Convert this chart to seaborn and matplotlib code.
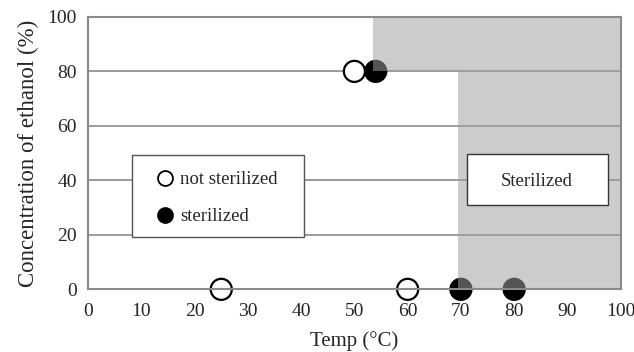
import numpy as np
import pandas as pd
import matplotlib
matplotlib.use("Agg")
import matplotlib.pyplot as plt
from matplotlib.patches import Polygon, Rectangle
import seaborn as sns

# Observations: temperature (°C), ethanol concentration (%), outcome
temps = [25, 60, 50, 54, 70, 80]
ethanol = [0, 0, 80, 80, 0, 0]
outcome = ["not sterilized", "not sterilized", "not sterilized",
           "sterilized", "sterilized", "sterilized"]

x_ticks = [0, 10, 20, 30, 40, 50, 60, 70, 80, 90, 100]
y_ticks = [0, 20, 40, 60, 80, 100]

df = pd.DataFrame({"Temp": temps, "Ethanol": ethanol, "Result": outcome})

sns.set_style("white")
plt.rcParams["font.family"] = ["Liberation Serif", "DejaVu Serif"]

fig = plt.figure(figsize=(6.34, 3.52), dpi=100)
ax = fig.add_axes([0.139, 0.178, 0.840, 0.774])

spine_col = "#8a8a8a"
for y in y_ticks[1:-1]:
    ax.axhline(y, color=spine_col, lw=1.2, zorder=1)

sns.scatterplot(data=df, x="Temp", y="Ethanol", hue="Result", style="Result",
                palette={"not sterilized": "white", "sterilized": "black"},
                markers={"not sterilized": "o", "sterilized": "o"},
                s=230, edgecolor="black", linewidth=1.6, legend=False,
                ax=ax, zorder=3, clip_on=False)

# Region where sterilization occurs
region = Polygon([(53.5, 100), (100, 100), (100, 0), (69.5, 0), (69.5, 80), (53.5, 80)],
                 closed=True, facecolor="#9f9f9f", alpha=0.53, edgecolor="none", zorder=4)
ax.add_patch(region)

# Custom legend box
ax.add_patch(Rectangle((8.3, 19.3), 32.2, 30.1, facecolor="white", edgecolor="#555555",
                       lw=1.0, zorder=5))
ax.scatter([14.4], [40.9], s=115, facecolor="white", edgecolor="black", lw=1.3, zorder=6)
ax.scatter([14.4], [27.3], s=115, facecolor="black", edgecolor="black", lw=1.3, zorder=6)
ax.text(17.3, 40.3, "not sterilized", fontsize=13.5, va="center", ha="left", zorder=6)
ax.text(17.3, 26.8, "sterilized", fontsize=13.5, va="center", ha="left", zorder=6)

# Label box for the sterilized region
ax.add_patch(Rectangle((71.1, 31.0), 26.5, 18.7, facecolor="white", edgecolor="#333333",
                       lw=1.0, zorder=5))
ax.text(84.3, 39.6, "Sterilized", fontsize=13.5, va="center", ha="center", zorder=6)

ax.set_xlim(0, 100)
ax.set_ylim(0, 100)
ax.set_xticks(x_ticks)
ax.set_yticks(y_ticks)
ax.tick_params(axis="x", direction="in", length=5, width=1, color=spine_col,
               labelsize=14, pad=10)
ax.tick_params(axis="y", direction="in", length=0, labelsize=14, pad=8)
for sp in ax.spines.values():
    sp.set_visible(True)
    sp.set_color(spine_col)
    sp.set_linewidth(1.5)
    sp.set_zorder(7)

ax.set_xlabel("Temp (°C)", fontsize=15, labelpad=8)
ax.set_ylabel("Concentration of ethanol (%)", fontsize=16.5, labelpad=6)

fig.savefig("out.png", dpi=100)
